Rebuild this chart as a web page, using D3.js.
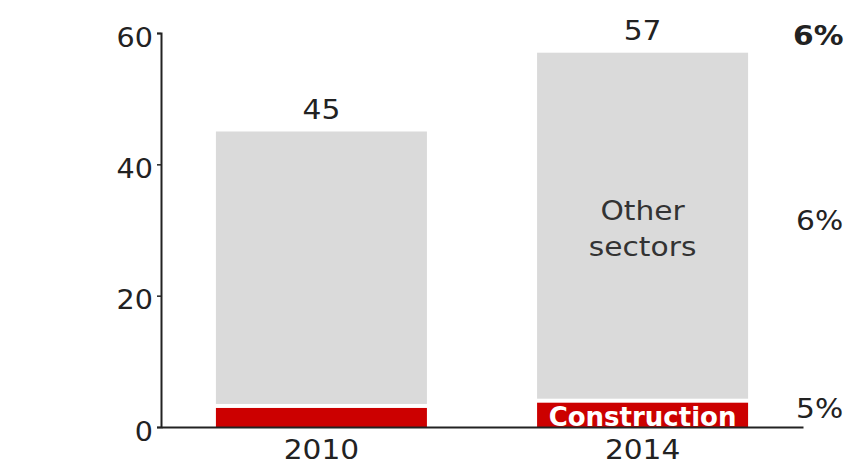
<!DOCTYPE html>
<html>
<head>
<meta charset="utf-8">
<script src="https://cdn.jsdelivr.net/npm/d3@7"></script>
<style>
  html, body { margin: 0; padding: 0; background: #fff; }
  svg { display: block; font-family: "DejaVu Sans", Verdana, sans-serif; }
</style>
</head>
<body>
<svg id="chart" width="856" height="467"></svg>
<script>
// Employment by sector, two years (values stacked: construction at the base)
const years = ["2010", "2014"];
const construction = [2.9, 3.7];
const otherSectors = [42.1, 53.3];
const totals = [45, 57];
const yTicks = [0, 20, 40, 60];
// Growth rates shown at the right, one per row: total, other sectors, construction
const growthRows = ["total", "other", "construction"];
const growthLabels = ["6%", "6%", "5%"];

const svg = d3.select("#chart");
const ink = "#222";
const wide = 1.1; // horizontal stretch of the lettering

// Move a text's x/y into a transform so it can be widened around its anchor
function stretch(sel, sx) {
  sel.each(function () {
    const t = d3.select(this);
    const tx = +t.attr("x") || 0, ty = +t.attr("y") || 0;
    t.attr("x", 0).attr("y", 0)
      .attr("transform", `translate(${tx},${ty}) scale(${sx},1)`);
  });
}

const x = d3.scaleBand()
  .domain(years)
  .range([161, 803])
  .paddingInner(0.343)
  .paddingOuter(0.171);

const y = d3.scaleLinear().domain([0, 60]).range([427, 33]);

const gap = 4; // white separation between the two stacked segments

// Construction segment
svg.append("g").selectAll("rect")
  .data(years)
  .join("rect")
  .attr("x", d => x(d))
  .attr("width", x.bandwidth())
  .attr("y", (d, i) => y(construction[i]))
  .attr("height", (d, i) => y(0) - y(construction[i]))
  .attr("fill", "#cc0000");

// Other sectors segment
svg.append("g").selectAll("rect")
  .data(years)
  .join("rect")
  .attr("x", d => x(d))
  .attr("width", x.bandwidth())
  .attr("y", (d, i) => y(construction[i] + otherSectors[i]))
  .attr("height", (d, i) => y(construction[i]) - y(construction[i] + otherSectors[i]) - gap)
  .attr("fill", "#dadada");

// Total labels above bars
svg.append("g").selectAll("text")
  .data(years)
  .join("text")
  .attr("x", d => x(d) + x.bandwidth() / 2)
  .attr("y", (d, i) => y(totals[i]) - 13)
  .attr("text-anchor", "middle")
  .attr("font-size", 27)
  .attr("fill", ink)
  .text((d, i) => totals[i])
  .call(stretch, wide);

// Segment names inside the 2014 bar
const last = years.length - 1;
const cx = x(years[last]) + x.bandwidth() / 2;
const otherMid = y(construction[last] + otherSectors[last] / 2);
svg.append("g").selectAll("text")
  .data(["Other", "sectors"])
  .join("text")
  .attr("x", cx)
  .attr("y", (d, i) => otherMid - 8 + i * 36)
  .attr("text-anchor", "middle")
  .attr("font-size", 27)
  .attr("fill", "#333")
  .text(d => d)
  .call(stretch, wide);

svg.append("text")
  .attr("x", cx)
  .attr("y", y(0) - 1)
  .attr("text-anchor", "middle")
  .attr("font-size", 26)
  .attr("font-weight", "bold")
  .attr("fill", "#fff")
  .text("Construction");

// Axes
const yAxis = svg.append("g")
  .attr("transform", `translate(${x.range()[0]},0)`)
  .call(d3.axisLeft(y).tickValues(yTicks).tickSize(4).tickPadding(3));
yAxis.select(".domain").attr("stroke", ink).attr("stroke-width", 2);
yAxis.selectAll(".tick line").attr("stroke", ink).attr("stroke-width", 1.5);
yAxis.selectAll(".tick text")
  .attr("font-size", 26)
  .attr("font-family", "DejaVu Sans, Verdana, sans-serif")
  .attr("fill", ink)
  .attr("dy", null)
  .attr("x", -8)
  .attr("y", 13)
  .call(stretch, wide);

const xAxis = svg.append("g")
  .attr("transform", `translate(0,${y(0)})`)
  .call(d3.axisBottom(x).tickSize(0));
xAxis.select(".domain").attr("stroke", ink).attr("stroke-width", 2);
xAxis.selectAll(".tick text")
  .attr("font-size", 26)
  .attr("font-family", "DejaVu Sans, Verdana, sans-serif")
  .attr("fill", ink)
  .attr("dy", null)
  .attr("y", 32)
  .call(stretch, 1.14);

// Growth rates at the right edge
const growthY = {
  total: y(totals[last]) - 8,
  other: otherMid + 2,
  construction: y(construction[last]) + 15
};
svg.append("g").selectAll("text")
  .data(growthRows)
  .join("text")
  .attr("x", d => d === "total" ? 793 : 796)
  .attr("y", d => growthY[d])
  .attr("font-size", 27)
  .attr("font-weight", d => d === "total" ? "bold" : "normal")
  .attr("fill", ink)
  .text((d, i) => growthLabels[i])
  .call(stretch, wide);
</script>
</body>
</html>
